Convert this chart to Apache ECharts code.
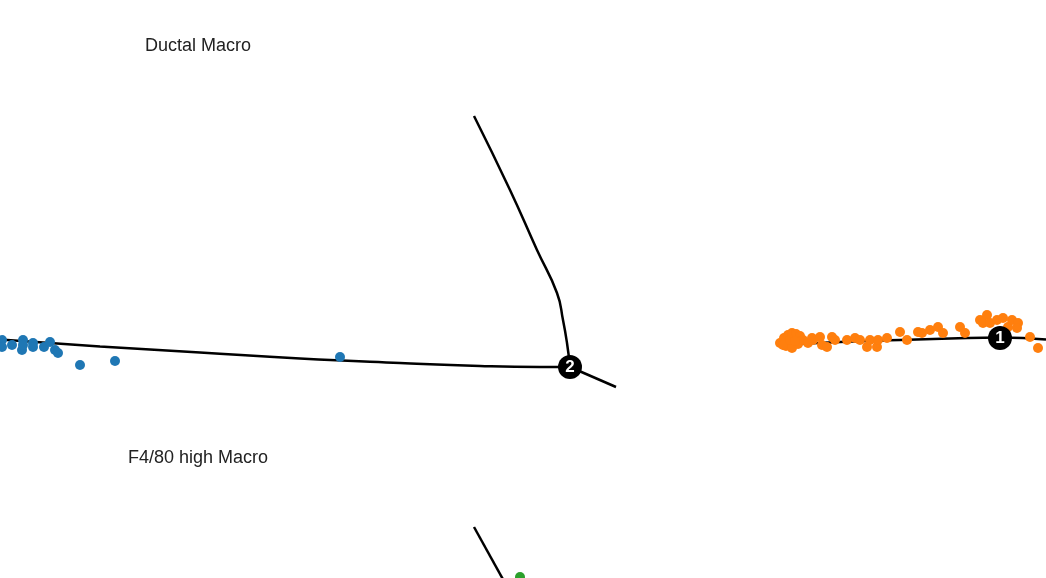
<!DOCTYPE html>
<html>
<head>
<meta charset="utf-8">
<script src="https://cdn.jsdelivr.net/npm/echarts@6/dist/echarts.min.js"></script>
<style>html,body{margin:0;padding:0;background:#fff}#c{width:1046px;height:578px}</style>
</head>
<body>
<div id="c"></div>
<script>
// Trajectory coordinates (component 1, component 2 in plot units)
const branchLeft = [[0,339.5],[100,346.5],[200,352.5],[300,358.5],[400,363],[480,366],[540,367],[570,367]];
const branchUp = [[474,116],[510,190],[537,250],[557,293],[563,320],[567,343],[570,367]];
const branchShort = [[570,367],[616,387]];
const branchRight = [[785,345],[840,342],[900,340],[950,338.5],[1000,337.5],[1046,339.5]];
const branchBottom = [[474,527],[510,592]];

const nodes = [[570,367,'2'],[1000,338,'1']];

const ductalPts = [[2,340],[2,347],[12,345],[23,340],[22,350],[23,345],[33,343],[33,347],[44,347],[50,342],[55,350],[58,353],[80,365],[115,361],[340,357]];
const f480Pts = [[780,343],[784,338],[788,335],[792,333],[796,334],[800,336],[786,346],[792,348],[798,344],[803,340],[808,343],[813,340],
  [783,345],[790,340],[795,341],[812,338],[820,337],[822,345],[827,347],[832,337],[835,340],[847,340],[855,338],[860,340],[867,347],[870,340],
  [877,347],[878,340],[887,338],[900,332],[907,340],[918,332],[922,333],[930,330],[938,327],[943,333],[960,327],[965,333],
  [980,320],[987,315],[983,323],[990,323],[997,320],[1003,318],[1008,327],[1012,320],[1018,323],[1017,328],[1030,337],[1038,348]];
const thirdPts = [[520,577]];

const labels = ['Ductal Macro','F4/80 high Macro'];

const chart = echarts.init(document.getElementById('c'), null, {renderer:'canvas'});
const lineStyle = {color:'#000', width:2.5};
function lineSeries(d){
  return {type:'line', data:d, smooth:0.5, symbol:'none', lineStyle:lineStyle, z:2, clip:true, animation:false};
}
const dot = c => ({color:c, opacity:1});
chart.setOption({
  animation:false,
  grid:{left:0,right:0,top:0,bottom:0},
  xAxis:{type:'value',min:0,max:1046,show:false},
  yAxis:{type:'value',min:0,max:578,inverse:true,show:false},
  graphic:[
    {type:'text', left:145, top:37, style:{text:labels[0], font:'18px "Liberation Sans", Arial, sans-serif', fill:'#222'}},
    {type:'text', left:128, top:449, style:{text:labels[1], font:'18px "Liberation Sans", Arial, sans-serif', fill:'#222'}}
  ],
  series:[
    lineSeries(branchLeft),
    lineSeries(branchUp),
    lineSeries(branchShort),
    lineSeries(branchRight),
    lineSeries(branchBottom),
    {type:'scatter', data:ductalPts, symbolSize:10, itemStyle:dot('#1f77b4'), z:3},
    {type:'scatter', data:f480Pts, symbolSize:10, itemStyle:dot('#ff7f0e'), z:3},
    {type:'scatter', data:thirdPts, symbolSize:10, itemStyle:dot('#2ca02c'), z:3},
    {type:'scatter', data:nodes, symbolSize:24, itemStyle:dot('#000'), z:5,
     label:{show:true, position:'inside', formatter:p=>p.data[2], color:'#fff', fontSize:17, fontWeight:'bold', fontFamily:'"Liberation Sans", Arial, sans-serif'}}
  ]
});
</script>
</body>
</html>
